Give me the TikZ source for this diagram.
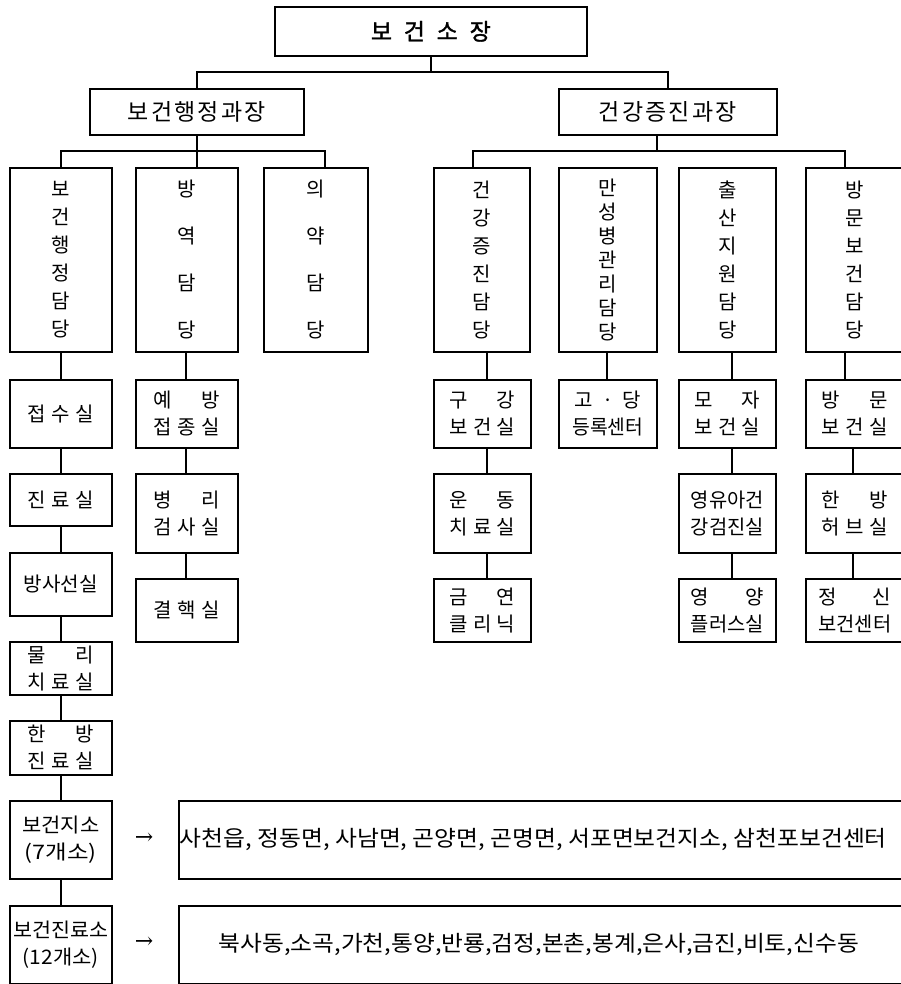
\documentclass[tikz,border=0pt]{standalone}
\usepackage{fontspec}
\setmainfont{Noto Sans CJK KR}[AutoFakeBold=1.5]
\newfontfamily\arrfont{DejaVu Serif}
\usepackage{graphicx}
\newcommand{\spr}[2]{\makebox[#1pt][s]{#2}}
\begin{document}
\begin{tikzpicture}[x=1pt,y=-1pt,
  bx/.style={draw, line width=1.7pt, inner sep=0pt, anchor=north west, align=center,
             font=\fontsize{20}{27}\selectfont},
  vt/.style={bx, minimum height=184pt, font=\fontsize{20}{28}\selectfont},
  ln/.style={line width=1.7pt},
  arr/.style={inner sep=0pt, font=\arrfont\fontsize{22}{24}\selectfont}]
\useasboundingbox (0,0) rectangle (901,984);
\clip (0,0) rectangle (901,984);

% top levels
\node[bx, minimum width=312pt, minimum height=49pt, font=\fontsize{23}{26}\selectfont\bfseries]
  (boss) at (274,6) {\spr{120}{보\hfill 건\hfill 소\hfill 장}};
\node[bx, minimum width=214pt, minimum height=46pt, font=\fontsize{23}{26}\selectfont]
  (ga) at (89,88) {\spr{138}{보\hfill 건\hfill 행\hfill 정\hfill 과\hfill 장}};
\node[bx, minimum width=218pt, minimum height=46pt, font=\fontsize{23}{26}\selectfont]
  (gb) at (558,88) {\spr{138}{건\hfill 강\hfill 증\hfill 진\hfill 과\hfill 장}};

% level 3
\node[vt, minimum width=102pt] (a1) at (9,167) {보\\건\\행\\정\\담\\당};
\node[vt, minimum width=102pt, font=\fontsize{20}{47}\selectfont] (a2) at (135,167) {방\\역\\담\\당};
\node[vt, minimum width=104pt, font=\fontsize{20}{47}\selectfont] (a3) at (263,167) {의\\약\\담\\당};
\node[vt, minimum width=96pt] (b1) at (433,167) {건\\강\\증\\진\\담\\당};
\node[vt, minimum width=98pt, font=\fontsize{20}{24}\selectfont] (b2) at (558,167) {만\\성\\병\\관\\리\\담\\당};
\node[vt, minimum width=97pt] (b3) at (678,167) {출\\산\\지\\원\\담\\당};
\node[vt, minimum width=98pt] (b4) at (805,167) {방\\문\\보\\건\\담\\당};

% column a1
\node[bx, minimum width=102pt, minimum height=68pt] (a1r1) at (9,379) {\spr{66}{접\hfill 수\hfill 실}};
\node[bx, minimum width=102pt, minimum height=52pt] (a1r2) at (9,473) {\spr{66}{진\hfill 료\hfill 실}};
\node[bx, minimum width=102pt, minimum height=63pt] (a1r3) at (9,552) {\resizebox{74pt}{\height}{방사선실}};
\node[bx, minimum width=102pt, minimum height=53pt] (a1r4) at (9,641) {\spr{66}{물\hfill 리}\\\spr{66}{치\hfill 료\hfill 실}};
\node[bx, minimum width=102pt, minimum height=54pt] (a1r5) at (9,720) {\spr{66}{한\hfill 방}\\\spr{66}{진\hfill 료\hfill 실}};
\node[bx, minimum width=102pt, minimum height=78pt] (a1r6) at (9,800) {\resizebox{77pt}{\height}{보건지소}\\\resizebox{72pt}{\height}{(7개소)}};
\node[bx, minimum width=102pt, minimum height=78pt] (a1r7) at (9,905) {\resizebox{95pt}{\height}{보건진료소}\\\resizebox{76pt}{\height}{(12개소)}};

% column a2
\node[bx, minimum width=102pt, minimum height=68pt] (a2r1) at (135,379) {\spr{66}{예\hfill 방}\\\spr{66}{접\hfill 종\hfill 실}};
\node[bx, minimum width=102pt, minimum height=79pt] (a2r2) at (135,473) {\spr{66}{병\hfill 리}\\\spr{66}{검\hfill 사\hfill 실}};
\node[bx, minimum width=102pt, minimum height=63pt] (a2r3) at (135,578) {\spr{66}{결\hfill 핵\hfill 실}};

% column b1
\node[bx, minimum width=97pt, minimum height=68pt] (b1r1) at (433,379) {\spr{66}{구\hfill 강}\\\spr{66}{보\hfill 건\hfill 실}};
\node[bx, minimum width=97pt, minimum height=79pt] (b1r2) at (433,473) {\spr{66}{운\hfill 동}\\\spr{66}{치\hfill 료\hfill 실}};
\node[bx, minimum width=97pt, minimum height=63pt] (b1r3) at (433,578) {\spr{66}{금\hfill 연}\\\spr{66}{클\hfill 리\hfill 닉}};

% column b2
\node[bx, minimum width=98pt, minimum height=68pt] (b2r1) at (558,379) {\spr{66}{고\hfill ·\hfill 당}\\\resizebox{71pt}{\height}{등록센터}};

% column b3
\node[bx, minimum width=97pt, minimum height=68pt] (b3r1) at (678,379) {\spr{66}{모\hfill 자}\\\spr{66}{보\hfill 건\hfill 실}};
\node[bx, minimum width=97pt, minimum height=79pt] (b3r2) at (678,473) {\resizebox{73pt}{\height}{영유아건}\\\resizebox{73pt}{\height}{강검진실}};
\node[bx, minimum width=97pt, minimum height=63pt] (b3r3) at (678,578) {\spr{73}{영\hfill 양}\\\resizebox{73pt}{\height}{플러스실}};

% column b4
\node[bx, minimum width=98pt, minimum height=68pt] (b4r1) at (805,379) {\spr{66}{방\hfill 문}\\\spr{66}{보\hfill 건\hfill 실}};
\node[bx, minimum width=98pt, minimum height=79pt] (b4r2) at (805,473) {\spr{66}{한\hfill 방}\\\spr{66}{허\hfill 브\hfill 실}};
\node[bx, minimum width=98pt, minimum height=63pt] (b4r3) at (805,578) {\spr{73}{정\hfill 신}\\\resizebox{73pt}{\height}{보건센터}};

% wide boxes
\node[bx, minimum width=732pt, minimum height=78pt, font=\fontsize{22}{26}\selectfont] (w1) at (178,800)
  {\makebox[732pt][l]{\hspace{1pt}\resizebox{707pt}{\height}{사천읍, 정동면, 사남면, 곤양면, 곤명면, 서포면보건지소, 삼천포보건센터}}};
\node[bx, minimum width=732pt, minimum height=78pt, font=\fontsize{22}{26}\selectfont] (w2) at (178,905)
  {\makebox[732pt][l]{\hspace{40pt}\resizebox{640pt}{\height}{북사동,소곡,가천,통양,반룡,검정,본촌,봉계,은사,금진,비토,신수동}}};

% arrows (text)
\node[arr] (ar1) at (144,839) {→};
\node[arr] (ar2) at (144,943) {→};

% helper coordinates
\coordinate (h0) at (0,72);
\coordinate (h1) at (0,151);
\coordinate (xA) at (61,0);
\coordinate (xB) at (186,0);
\coordinate (xH) at (325,0);
\coordinate (xI) at (657,0);
\coordinate (xJ) at (473,0);
\coordinate (xG) at (845,0);
\coordinate (xC) at (487,0);
\coordinate (xD) at (607,0);
\coordinate (xE) at (732,0);
\coordinate (xF) at (853,0);

% connectors
\draw[ln] (boss.south) -- (boss.south |- h0);
\draw[ln] (ga.north) -- (ga.north |- h0) -- (gb.north |- h0) -- (gb.north);
\draw[ln] (ga.south) -- (ga.south |- h1) -- (a2.north -| ga.south);
\draw[ln] (a1.north -| xA) -- (xA |- h1) -- (xH |- h1) -- (a3.north -| xH);
\draw[ln] (gb.south -| xI) -- (xI |- h1);
\draw[ln] (b1.north -| xJ) -- (xJ |- h1) -- (xG |- h1) -- (b4.north -| xG);

\draw[ln] (a1.south -| xA) -- (a1r1.north -| xA);
\draw[ln] (a1r1.south -| xA) -- (a1r2.north -| xA);
\draw[ln] (a1r2.south -| xA) -- (a1r3.north -| xA);
\draw[ln] (a1r3.south -| xA) -- (a1r4.north -| xA);
\draw[ln] (a1r4.south -| xA) -- (a1r5.north -| xA);
\draw[ln] (a1r5.south -| xA) -- (a1r6.north -| xA);
\draw[ln] (a1r6.south -| xA) -- (a1r7.north -| xA);

\draw[ln] (a2.south -| xB) -- (a2r1.north -| xB);
\draw[ln] (a2r1.south -| xB) -- (a2r2.north -| xB);
\draw[ln] (a2r2.south -| xB) -- (a2r3.north -| xB);

\draw[ln] (b1.south -| xC) -- (b1r1.north -| xC);
\draw[ln] (b1r1.south -| xC) -- (b1r2.north -| xC);
\draw[ln] (b1r2.south -| xC) -- (b1r3.north -| xC);

\draw[ln] (b2.south -| xD) -- (b2r1.north -| xD);

\draw[ln] (b3.south -| xE) -- (b3r1.north -| xE);
\draw[ln] (b3r1.south -| xE) -- (b3r2.north -| xE);
\draw[ln] (b3r2.south -| xE) -- (b3r3.north -| xE);

\draw[ln] (b4.south -| xG) -- (b4r1.north -| xG);
\draw[ln] (b4r1.south -| xF) -- (b4r2.north -| xF);
\draw[ln] (b4r2.south -| xF) -- (b4r3.north -| xF);
\end{tikzpicture}
\end{document}
